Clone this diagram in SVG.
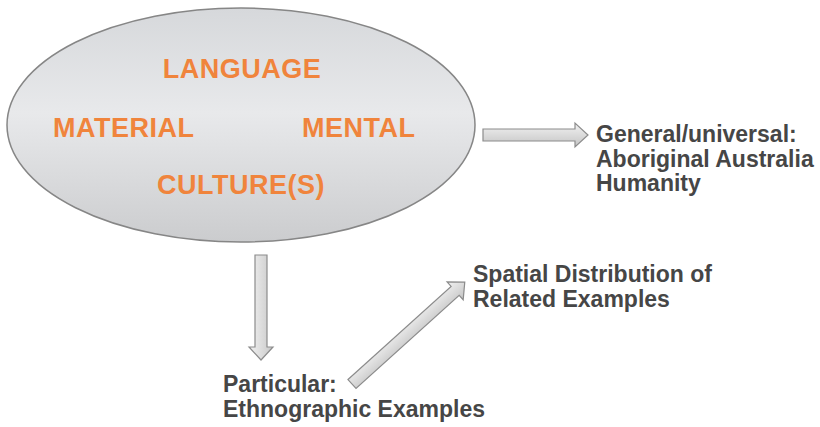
<svg xmlns="http://www.w3.org/2000/svg" width="820" height="427" viewBox="0 0 820 427">
  <defs>
    <linearGradient id="ellG" x1="0" y1="0" x2="0" y2="1">
      <stop offset="0" stop-color="#d6d8db"/>
      <stop offset="0.45" stop-color="#e8e9eb"/>
      <stop offset="1" stop-color="#cbccce"/>
    </linearGradient>
    <linearGradient id="arrH" x1="0" y1="0" x2="0" y2="1">
      <stop offset="0" stop-color="#f2f2f2"/>
      <stop offset="1" stop-color="#c4c4c4"/>
    </linearGradient>
    <linearGradient id="arrV" x1="0" y1="0" x2="1" y2="0">
      <stop offset="0" stop-color="#f2f2f2"/>
      <stop offset="1" stop-color="#c8c8c8"/>
    </linearGradient>
  </defs>
  <style>
    .orange { font-family: "Liberation Sans", Arial, sans-serif; font-weight: bold; font-size: 27px; letter-spacing: 0.5px; fill: #f0843c; }
    .label { font-family: "Liberation Sans", Arial, sans-serif; font-weight: bold; font-size: 23px; fill: #464646; }
    .arrow { stroke: #8c8c8c; stroke-width: 1.2; stroke-linejoin: miter; }
  </style>
  <rect width="820" height="427" fill="#ffffff"/>
  <g id="culture">
    <ellipse cx="241" cy="125" rx="234" ry="117" fill="url(#ellG)" stroke="#868686" stroke-width="1.5"/>
    <text class="orange" x="242" y="78" text-anchor="middle">LANGUAGE</text>
    <text class="orange" x="53" y="137">MATERIAL</text>
    <text class="orange" x="302" y="137">MENTAL</text>
    <text class="orange" x="157" y="194">CULTURE(S)</text>
  </g>
  <g id="general">
    <text class="label" x="596" y="142">General/universal:</text>
    <text class="label" x="596" y="166.5">Aboriginal Australia</text>
    <text class="label" x="596" y="191">Humanity</text>
  </g>
  <g id="particular">
    <text class="label" x="223" y="392">Particular:</text>
    <text class="label" x="223" y="417">Ethnographic Examples</text>
  </g>
  <g id="spatial">
    <text class="label" x="473" y="282">Spatial Distribution of</text>
    <text class="label" x="473" y="307">Related Examples</text>
  </g>
  <g id="connectors">
    <polygon class="arrow" fill="url(#arrH)" points="483,129 575,129 575,123 588,135 575,147 575,141 483,141"/>
    <polygon class="arrow" fill="url(#arrV)" points="255,255 267,255 267,347 273,347 261,360 249,347 255,347"/>
    <polygon class="arrow" fill="url(#arrH)" transform="translate(352,384) rotate(-42.1)" points="0,-6 139,-6 139,-12 152,0 139,12 139,6 0,6"/>
  </g>
</svg>
